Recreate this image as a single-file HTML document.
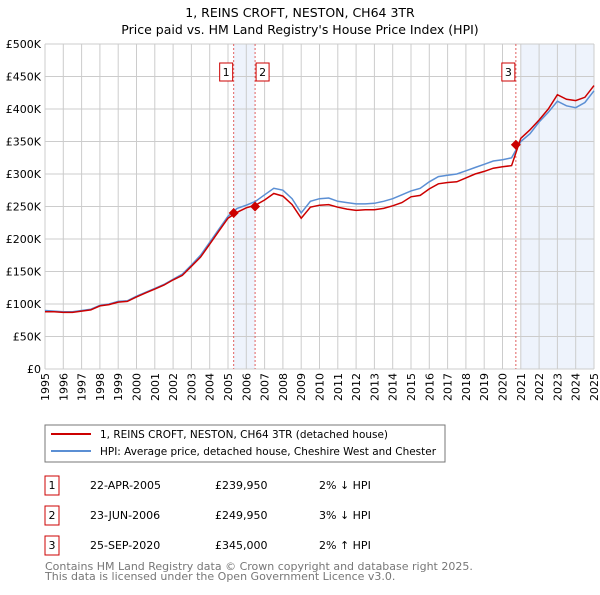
<!DOCTYPE html>
<html><head><meta charset="utf-8"><style>
body{margin:0;background:#fff;font-family:"Liberation Sans","DejaVu Sans",sans-serif;}
svg text{font-family:"DejaVu Sans","Liberation Sans",sans-serif;}
</style></head><body>
<svg id="chart" width="600" height="590" xmlns="http://www.w3.org/2000/svg">
<text x="300" y="17" text-anchor="middle" font-size="12.5">1, REINS CROFT, NESTON, CH64 3TR</text>
<text x="300" y="34" text-anchor="middle" font-size="12.5">Price paid vs. HM Land Registry's House Price Index (HPI)</text>
<g id="shade"></g><g id="grid"></g><g id="lines"></g><g id="marks"></g><g id="axes"></g>
<rect x="45" y="425" width="400" height="37" fill="#fff" stroke="#777"/>
<line x1="51" y1="434" x2="91" y2="434" stroke="#cc0000" stroke-width="2"/>
<text x="100" y="438" font-size="10.5" textLength="288" lengthAdjust="spacingAndGlyphs">1, REINS CROFT, NESTON, CH64 3TR (detached house)</text>
<line x1="51" y1="451" x2="91" y2="451" stroke="#5b8fd4" stroke-width="2"/>
<text x="100" y="455" font-size="10.5" textLength="336" lengthAdjust="spacingAndGlyphs">HPI: Average price, detached house, Cheshire West and Chester</text>
<g id="table" font-size="11"></g>
<text x="45" y="570" font-size="11" fill="#777">Contains HM Land Registry data © Crown copyright and database right 2025.</text>
<text x="45" y="580" font-size="11" fill="#777">This data is licensed under the Open Government Licence v3.0.</text>
</svg>
<script>
const years=[1995,1996,1997,1998,1999,2000,2001,2002,2003,2004,2005,2006,2007,2008,2009,2010,2011,2012,2013,2014,2015,2016,2017,2018,2019,2020,2021,2022,2023,2024,2025];
const yTicks=[0,50,100,150,200,250,300,350,400,450,500];
const yTickLabels=["£0","£50K","£100K","£150K","£200K","£250K","£300K","£350K","£400K","£450K","£500K"];
// half-year samples from 1995.0 to 2025.0 (thousands)
const hpiValues=[90,89,88,88,90,92,98,100,104,105,112,118,124,130,138,146,160,175,195,215,235,247,252,258,268,278,275,262,240,258,262,263,258,256,254,254,255,258,262,268,274,278,288,296,298,300,305,310,315,320,322,325,350,362,380,395,412,405,402,410,428];
const priceValues=[88,88,87,87,89,91,97,99,103,104,111,117,123,129,137,144,158,172,192,212,232,241,248,252,260,270,266,253,232,249,252,253,249,246,244,245,245,247,251,256,265,267,277,285,287,288,294,300,304,309,311,313,355,368,383,400,422,415,413,418,436];
const saleIds=["1","2","3"];
const saleDates=[2005.31,2006.48,2020.73];
const salePrices=[239.95,249.95,345];
const saleDateLabels=["22-APR-2005","23-JUN-2006","25-SEP-2020"];
const salePriceLabels=["£239,950","£249,950","£345,000"];
const saleHpiLabels=["2% ↓ HPI","3% ↓ HPI","2% ↑ HPI"];
const NS="http://www.w3.org/2000/svg";
const X0=45,X1=594,Y0=369,Y1=44;
const xs=t=>X0+(t-1995)/30*(X1-X0);
const ys=v=>Y0-v/500*(Y0-Y1);
function mk(p,tag,a){const e=document.createElementNS(NS,tag);for(const k in a)e.setAttribute(k,a[k]);document.getElementById(p).appendChild(e);return e;}
let e;
e=mk('shade','rect',{x:xs(saleDates[0]),y:Y1,width:xs(saleDates[1])-xs(saleDates[0]),height:Y0-Y1,fill:'#eef3fc'});


e=mk('shade','rect',{x:xs(2021),y:Y1,width:X1-xs(2021),height:Y0-Y1,fill:'#eef3fc'});


yTicks.forEach((v,i)=>{
 e=mk('grid','line',{x1:X0,x2:X1,y1:ys(v),y2:ys(v),stroke:'#ccc'});
 
 
 e=mk('axes','text',{x:X0-4,y:ys(v)+4,'text-anchor':'end','font-size':11});
 
 
 e.textContent=yTickLabels[i];
});
years.forEach(y=>{
 e=mk('grid','line',{x1:xs(y),x2:xs(y),y1:Y1,y2:Y0,stroke:'#ccc'});
 
 
 const tx=xs(y)+4,ty=Y0+4;
 e=mk('axes','text',{x:tx,y:ty,'text-anchor':'end','font-size':11,transform:`rotate(-90 ${tx} ${ty})`});
 
 
 e.textContent=y;
});
saleDates.forEach((d,i)=>{
 e=mk('grid','line',{x1:xs(d),x2:xs(d),y1:Y1,y2:Y0,stroke:'#e06060','stroke-dasharray':'2,2'});
 
 
});
function path(vals){return vals.map((v,i)=>(i?'L':'M')+xs(1995+i*0.5).toFixed(1)+','+ys(v).toFixed(1)).join('');}
e=mk('lines','path',{d:path(hpiValues),fill:'none',stroke:'#5b8fd4','stroke-width':1.5});


e=mk('lines','path',{d:path(priceValues),fill:'none',stroke:'#cc0000','stroke-width':1.5});


saleDates.forEach((d,i)=>{
 const cx=xs(d),cy=ys(salePrices[i]);
 e=mk('marks','path',{d:`M${cx},${cy-5}L${cx+5},${cy}L${cx},${cy+5}L${cx-5},${cy}Z`,fill:'#cc0000'});
 
 
 const bx=[xs(d)-14,xs(d)+1,xs(d)-14][i];
 e=mk('marks','rect',{x:bx,y:63,width:13,height:18,fill:'#fff',stroke:'#cc0000'});
 
 
 e=mk('marks','text',{x:bx+6.5,y:76,'text-anchor':'middle','font-size':11});
 
 
 e.textContent=saleIds[i];
 const ry=476+i*30;
 e=mk('table','rect',{x:45,y:ry,width:14,height:19,fill:'#fff',stroke:'#cc0000'});
 
 
 e=mk('table','text',{x:52,y:ry+13,'text-anchor':'middle'});
 
 
 e.textContent=saleIds[i];
 e=mk('table','text',{x:90,y:ry+13});
 
 
 e.textContent=saleDateLabels[i];
 e=mk('table','text',{x:215,y:ry+13});
 
 
 e.textContent=salePriceLabels[i];
 e=mk('table','text',{x:319,y:ry+13});
 
 
 e.textContent=saleHpiLabels[i];
});
</script>
</body></html>
